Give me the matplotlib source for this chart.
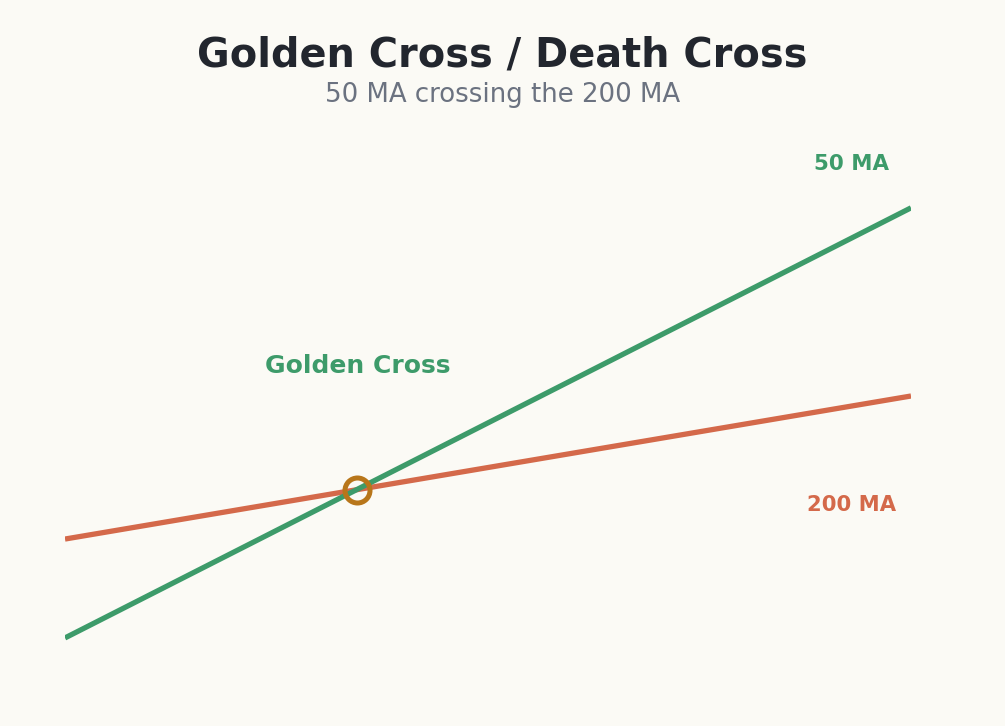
import matplotlib
matplotlib.use("Agg")
from matplotlib import pyplot as plt

plt.rcParams["font.family"] = ["DejaVu Sans"]

# moving average values at start and end of the window
x = [0.0, 1.0]
ma50 = [4.6, 94.2]
ma200 = [25.2, 55.0]
cross_x = 0.3456
cross_y = 35.5

bg = "#fbfaf5"
green = "#3d9b6a"
orange = "#d4694a"
gold = "#b8761a"

fig = plt.figure(figsize=(10.05, 7.26), dpi=100, facecolor=bg)
ax = fig.add_axes([65 / 1005, 66 / 726, 846 / 1005, 480 / 726])
ax.set_facecolor(bg)
ax.set_xlim(0, 1)
ax.set_ylim(0, 100)
ax.axis("off")

ax.plot(x, ma200, color=orange, lw=3.8, solid_capstyle="butt")
ax.plot(x, ma50, color=green, lw=3.8, solid_capstyle="butt")
ax.plot([cross_x], [cross_y], "o", ms=18, mfc="none", mec=gold, mew=3.6, zorder=5)

ax.text(cross_x, 61.3, "Golden Cross", color=green, fontsize=18,
        fontweight="bold", ha="center", va="center")
ax.text(0.93, 103.3, "50 MA", color=green, fontsize=15.4,
        fontweight="bold", ha="center", va="center")
ax.text(0.93, 32.3, "200 MA", color=orange, fontsize=15.2,
        fontweight="bold", ha="center", va="center")

fig.text(0.5, 1 - 56 / 726, "Golden Cross / Death Cross", color="#22262e",
         fontsize=28.7, fontweight="bold", ha="center", va="center")
fig.text(0.5, 1 - 95 / 726, "50 MA crossing the 200 MA", color="#6b7280",
         fontsize=18.7, ha="center", va="center")

fig.savefig("out.png", dpi=100, facecolor=bg)
